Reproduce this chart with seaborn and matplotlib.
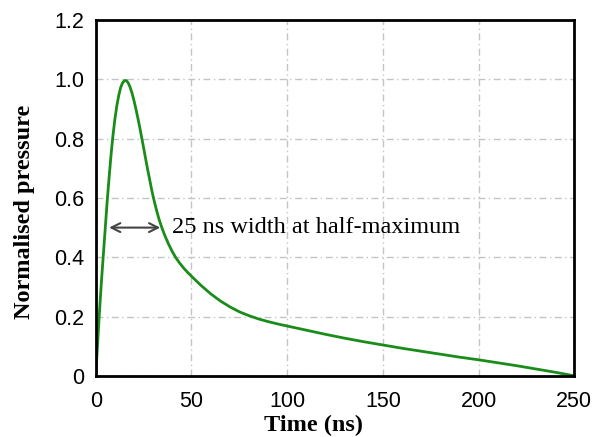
import matplotlib
matplotlib.use("Agg")
import matplotlib.pyplot as plt
import numpy as np
import pandas as pd
import seaborn as sns
from matplotlib.ticker import MultipleLocator, FuncFormatter

# values
time_ns = [0, 1, 2, 3, 4, 5, 6, 7, 8, 9, 10, 11, 12, 13, 14, 15, 16, 17, 18, 19,
           20, 21, 22, 23, 24, 25, 26, 27, 28, 29, 30, 31, 32, 33, 34, 35, 36, 38,
           40, 42, 44, 46, 48, 50, 55, 60, 65, 70, 75, 80, 85, 90, 95, 100, 110,
           120, 130, 140, 150, 160, 170, 180, 190, 200, 210, 220, 230, 240, 250]
pressure = [0.0, 0.11, 0.22, 0.32, 0.41, 0.50, 0.59, 0.67, 0.745, 0.81, 0.865, 0.91,
            0.945, 0.972, 0.988, 0.996, 0.996, 0.988, 0.973, 0.953, 0.928, 0.90,
            0.87, 0.838, 0.804, 0.77, 0.735, 0.70, 0.668, 0.635, 0.605, 0.578,
            0.553, 0.53, 0.51, 0.492, 0.475, 0.445, 0.419, 0.397, 0.379, 0.363,
            0.349, 0.336, 0.305, 0.277, 0.253, 0.233, 0.216, 0.203, 0.192, 0.183,
            0.175, 0.168, 0.154, 0.140, 0.127, 0.115, 0.104, 0.093, 0.083, 0.073,
            0.063, 0.054, 0.044, 0.034, 0.023, 0.012, 0.0]
fwhm_left, fwhm_right, half_max = 7.0, 33.7, 0.5
note = "25 ns width at half-maximum"

df = pd.DataFrame({"t": time_ns, "p": pressure})

sns.set_style("white")
plt.rcParams["font.family"] = ["Liberation Sans", "DejaVu Sans"]
plt.rcParams["text.color"] = "black"
plt.rcParams["axes.labelcolor"] = "black"

fig = plt.figure(figsize=(6.02, 4.37), dpi=100)
ax = fig.add_axes([0.159, 0.140, 0.795, 0.814])

sns.lineplot(data=df, x="t", y="p", ax=ax, color="#1a8c1a", linewidth=2.0)

ax.set_xlim(0, 250)
ax.set_ylim(0, 1.2)
ax.xaxis.set_major_locator(MultipleLocator(50))
ax.xaxis.set_minor_locator(MultipleLocator(25))
ax.yaxis.set_major_locator(MultipleLocator(0.2))
ax.yaxis.set_minor_locator(MultipleLocator(0.1))
ax.yaxis.set_major_formatter(FuncFormatter(lambda v, p: "0" if abs(v) < 1e-9 else f"{v:.1f}"))

ax.tick_params(which="both", direction="in", top=False, right=False,
               labelsize=15.5, width=1.5, colors="black")
ax.tick_params(axis="y", pad=8)
ax.tick_params(axis="x", pad=11)
ax.tick_params(which="major", length=5)
ax.tick_params(which="minor", length=3)

ax.grid(True, which="major", color="#c4c4c4", linewidth=1.0,
        linestyle=(0, (5, 2.5, 1, 2.5)))
for s in ax.spines.values():
    s.set_linewidth(2.0)
    s.set_color("black")

serif = ["Liberation Serif", "DejaVu Serif"]
ax.set_xlabel("Time (ns)", fontsize=17.5, fontweight="bold", family=serif, va="top")
ax.xaxis.set_label_coords(0.455, -0.11)
ax.set_ylabel("Normalised pressure", fontsize=17.5, fontweight="bold", family=serif)
ax.yaxis.set_label_coords(-0.126, 0.462)

ax.annotate("", xy=(fwhm_left, half_max), xytext=(fwhm_right, half_max),
            arrowprops=dict(arrowstyle="<->", color="#444444", lw=1.5,
                            mutation_scale=16, shrinkA=0, shrinkB=0))
ax.text(fwhm_right + 6, half_max, note, fontsize=17.5, family=serif,
        color="black", va="center", ha="left")

fig.savefig("out.png", dpi=100)
